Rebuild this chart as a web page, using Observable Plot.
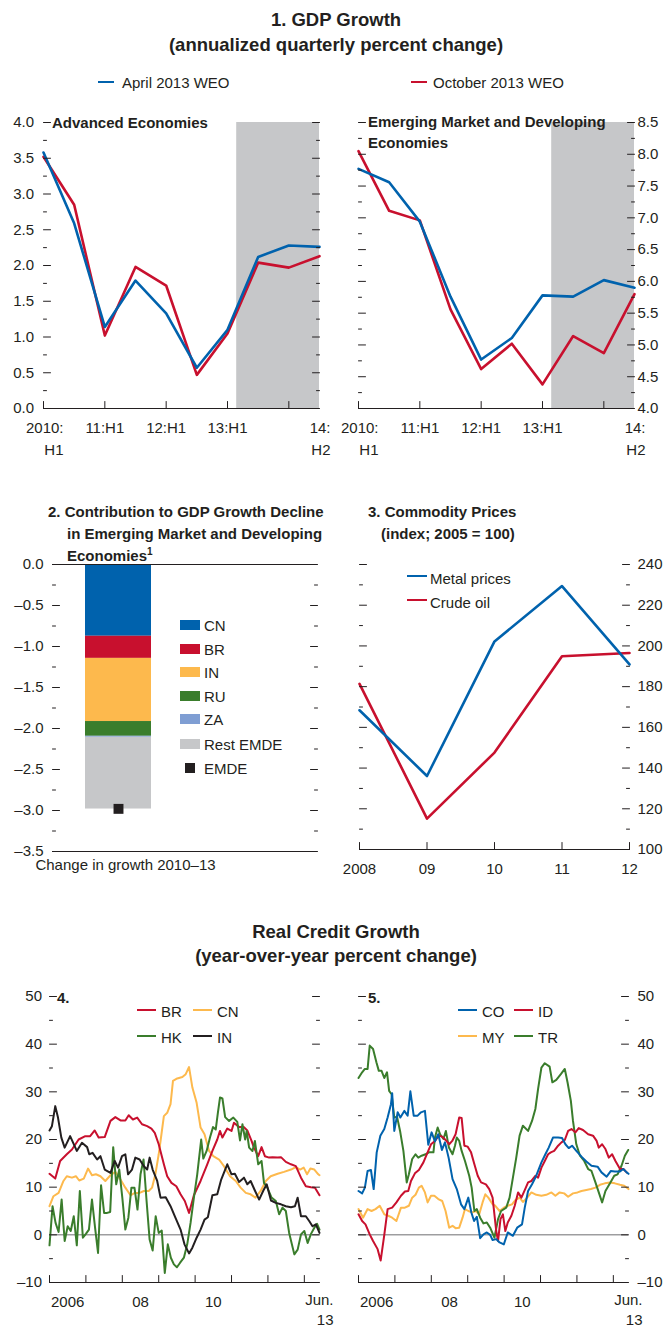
<!DOCTYPE html>
<html><head><meta charset="utf-8">
<script src="https://cdn.jsdelivr.net/npm/d3@7"></script>
<script src="https://cdn.jsdelivr.net/npm/@observablehq/plot@0.6"></script>
<style>
html,body{margin:0;padding:0;background:#fff;}
#root{position:relative;width:663px;height:1329px;overflow:hidden;color:#231F20;
  font-family:"Liberation Sans",Arial,"Helvetica",sans-serif;}
#root svg{font-family:"Liberation Sans",Arial,"Helvetica",sans-serif;font-size:15px;overflow:visible;background:transparent;}
.t{position:absolute;white-space:nowrap;line-height:1;}
.sw{position:absolute;}
</style></head><body><div id="root"></div>
<script>
// ---------- DATA ----------
// Panel 1: GDP growth, half-years 2010:H1 ... 2014:H2
const halfYearLabels = ["2010:\nH1","10:H2","11:H1","11:H2","12:H1","12:H2","13:H1","13:H2","14:H1","14:\nH2"];
const gdpAdvApril = [3.58, 2.59, 1.14, 1.79, 1.33, 0.57, 1.10, 2.12, 2.28, 2.26];
const gdpAdvOct   = [3.52, 2.85, 1.02, 1.98, 1.72, 0.47, 1.05, 2.04, 1.97, 2.13];
const gdpEmApril  = [7.77, 7.56, 6.94, 5.76, 4.77, 5.11, 5.78, 5.76, 6.02, 5.90];
const gdpEmOct    = [8.05, 7.11, 6.96, 5.56, 4.62, 5.02, 4.38, 5.14, 4.87, 5.80];
const projectionStart = 6.3; // shaded projection period (half-year index)
const gdpXTickLabels = [[0,"2010:\nH1"],[2,"11:H1"],[4,"12:H1"],[6,"13:H1"],[9,"14:\nH2"]];

// Panel 2: contributions to growth decline
const contribNames  = ["CN","BR","IN","RU","ZA","Rest EMDE"];
const contribValues = [-0.875, -0.27, -0.77, -0.18, -0.012, -0.875];
const emdeTotal = -2.98;
const contribCategory = "Change in growth 2010\u201313";

// Panel 3: commodity prices
const commodityYears = [2008, 2009, 2010, 2011, 2012];
const commodityYearLabels = ["2008","09","10","11","12"];
const metalPrices = [168.4, 136.1, 202.2, 229.4, 190.9];
const crudeOil    = [181.4, 115.2, 147.6, 194.9, 196.5];

// Panels 4-5: real credit growth, [months since Jan 2006, percent]
const creditXLabels = [[6,"2006"],[30,"08"],[54,"10"]];
const creditEndLabel = [[89,"Jun.\n13"]];
const BR = [[0,12.8],[1.9,11.8],[3.5,15.5],[5.7,16.9],[7.4,17.9],[9.6,20],[11.8,20.7],[13.4,20.7],[14.9,21.9],[16.2,20.4],[18.2,20.5],[20.1,23.9],[21.7,24.7],[23.4,24],[25,24],[26.1,25.1],[27.5,24.2],[28.9,24.6],[30.5,23.2],[32.2,22.8],[33.6,22.3],[34.7,21.4],[36,19],[37.7,14.8],[38.8,12.3],[40.2,10.9],[41.8,10.2],[43.2,8.5],[44.6,7.1],[46,4.6],[47.6,8.3],[49.8,11.3],[52,14.8],[53.7,17.6],[55.3,20],[56.2,21.8],[57,20.4],[58.6,22.3],[60,21.8],[60.8,23.5],[62.5,22.6],[64.1,22.6],[65.2,21.9],[66.6,19.7],[67.4,18.3],[68.8,16.5],[69.9,18.4],[71,16.5],[72.4,16.2],[73.5,16.3],[75.2,16.2],[76.3,16.3],[77.9,15.3],[79.6,14.8],[81.2,14.4],[82.9,12],[84.5,10.2],[86.2,10],[87.5,9.9],[89,8.3]];
const CN = [[0,6],[1.3,8.1],[3,8.8],[4.6,11.3],[5.7,12.3],[7.4,12],[8.7,12.3],[9.8,11.4],[11.3,11.8],[12.7,13.9],[14,12.5],[15.3,12.7],[16.8,12.3],[18.4,11.3],[20.1,12.5],[21.7,13.2],[23.4,11.6],[25,9.9],[26.7,8.3],[28.1,8.8],[29.7,8.8],[31.1,9.2],[32.7,9.2],[33.8,9.9],[34.9,12.7],[36,16.9],[36.9,21.1],[37.7,24.9],[38.8,25.6],[39.9,27.4],[40.7,32.3],[42.1,32.8],[43.8,33.1],[44.9,33.7],[46,35.2],[47.1,30.9],[48.5,27.7],[49.8,22.5],[51.1,21.1],[52.6,17.6],[54,16.5],[55.9,15.8],[57.5,14.4],[59.5,12.3],[61.4,11.3],[63,9.9],[64.7,8.8],[66.3,8.5],[67.9,7.8],[69.6,9.2],[71.3,11.3],[72.9,12.3],[75.2,12.8],[77.3,13.2],[79.6,13.7],[81.2,14.2],[82.6,13.7],[83.8,14.1],[84.9,12.7],[86,13.9],[87.3,13.7],[88.6,12.7],[89,12.5]];
const HK = [[0,-2.2],[1,6],[2,2.5],[3,0.6],[4,7.4],[5,-1.3],[6,1.8],[7,0.8],[8,3.9],[9,-2.2],[10,9.2],[11,-0.6],[12,0.2],[13,1.1],[14,7.4],[15,1.6],[16,-3.8],[17,10.4],[18,4.6],[19,4.6],[20,4.8],[21,18.4],[22,10.6],[23,13.7],[24,7.8],[25,1.1],[26,3.6],[27,9.9],[28,9.9],[29,5.3],[30,12.7],[31,15.8],[32,7.1],[33,-1],[34,-3.3],[35,3.9],[36,0.4],[37,0.9],[38,-8],[39,-2],[40,-4.8],[41,-6.2],[42,-6.8],[43,-5.9],[44.3,-4.8],[45.4,-2],[46.5,2.5],[47.6,7.8],[48.7,12.7],[50,20],[50.7,16],[51.8,17.6],[52.9,20.4],[53.9,22.6],[54.8,22.1],[55.5,25.6],[56.2,28.8],[57,28.6],[57.9,24.7],[59.2,23.9],[60.6,24.6],[61.9,23.7],[62.8,19.8],[63.6,23.2],[64.5,20],[65,21.8],[65.8,18.3],[66.9,17.6],[67.7,19.7],[68.8,14.8],[69.9,15.5],[70.7,10.9],[71.8,9.9],[73.2,7.8],[74.6,7.1],[75.7,4.3],[76.8,5.7],[77.9,5],[79,0.4],[80.7,-4.1],[81.8,-3.1],[82.9,0.1],[84,0.8],[85.1,-1.7],[86.2,0.2],[87.3,1.5],[88.2,2.3],[89,1.1]];
const IN = [[0,21.9],[0.8,22.8],[1.9,27],[2.8,24.6],[3.9,20.4],[5,18.3],[6.8,20.7],[9,17.6],[10.7,19.3],[12.4,18.4],[13.1,16.9],[14.2,17.2],[15.7,15.8],[16.8,16.5],[18.2,13.7],[20.1,13],[21.5,15.5],[22.6,14.1],[23.9,16.5],[25,16.9],[25.9,12.7],[27.2,13.7],[28.3,16.2],[29.7,15.8],[31.1,14.4],[32.2,13.7],[33,16.2],[34,13.7],[35.5,11.3],[36.6,7.8],[38.3,7.9],[39.9,6],[41.5,3.6],[43.2,1.1],[44.5,-2],[46,-3.9],[47.1,-2.7],[48.5,-0.6],[49.8,1.1],[51.1,3.2],[52.2,3.7],[53.7,8.3],[55.3,8.5],[56.6,11.6],[58.6,14.8],[60,12.7],[61.1,12.8],[62.5,11.1],[64.1,12],[65.2,10.6],[66.3,11.3],[67.7,9.3],[69.1,7.4],[70.5,9.3],[71.6,10.6],[73,7.2],[74.6,6.7],[76.3,6.4],[77.9,6],[79.6,5.8],[80.9,6],[81.8,7.8],[82.9,3.9],[84.5,3.9],[85.6,2.9],[86.7,1.8],[87.8,2.2],[89,0.4]];
const CO = [[0,9.2],[1.2,8.7],[2.1,9.9],[3,13.4],[4.1,13.6],[5,9.6],[6,17.3],[7.2,20.8],[8.5,22.2],[9.6,24.6],[10.7,27.4],[11.1,29.7],[11.8,21.8],[12.9,25.7],[13.8,24.6],[15.1,26],[16.2,25],[17.1,30.1],[18.2,25],[19.5,25],[20.6,25.7],[21.9,26],[23,18.9],[24.1,21.5],[25.2,19.6],[26.3,21.1],[27.5,17.8],[28.5,19.4],[29.7,16.2],[31,11.7],[32.4,9.6],[33.8,6.4],[34.9,5.4],[36.2,7.8],[37.2,4.7],[38.1,2.9],[39,3.8],[40.1,-0.7],[41.2,0.1],[42.3,0.5],[43.4,0],[44.2,-1.1],[45.4,-0.9],[46.5,-1.6],[47.9,-2],[49.2,0.5],[50.9,-0.2],[52.3,1.5],[53.9,2.2],[54.8,5.7],[55.9,9.2],[57.2,10.6],[58.6,12.4],[60.3,15.2],[61.6,16.9],[62.7,18.3],[64.1,20.4],[65.8,20.4],[67.1,20.3],[68.2,19],[69.3,18.2],[70.4,18.7],[71.8,17.6],[73.5,16.4],[75.1,15.4],[76.8,14.5],[78.8,14.3],[80.1,13.1],[81.8,12.2],[83.2,13.4],[84.5,13.3],[86.2,13.3],[87.3,13.8],[88.4,13.1],[89,12.8]];
const ID = [[0,4.3],[1.2,2.9],[2.3,2.2],[3.7,0.1],[4.8,-1.3],[6.3,-3],[7.3,-5.4],[8.5,0],[9.6,5.4],[11.1,5.7],[12.5,6.8],[14,8.2],[15.3,9.1],[16.4,9.2],[17.3,11.3],[18.6,12.9],[19.9,13.6],[21.4,15.2],[22.5,16.9],[23.9,19],[25.2,19.7],[26.5,20.8],[27.6,20.6],[28.7,19.9],[29.9,19],[30.9,19.7],[32,21.1],[33.2,24.6],[34,24.5],[34.9,18.7],[36,18.5],[37.1,17.3],[38.2,14.8],[39.3,12.4],[40.4,11],[42,10.6],[43.1,9.6],[44.2,7.8],[45.4,0.8],[46,-1.3],[46.8,3.3],[47.6,4.3],[48.4,0.8],[49.2,2.6],[50.4,4],[51.5,6.1],[52.6,8.9],[53.7,7.8],[54.8,9.4],[55.9,11],[57,11.3],[58.3,12.4],[59.2,12],[60.3,14.1],[61.4,15.5],[62.5,16.9],[63.4,17.3],[64.5,17.6],[65.8,18.7],[66.9,19.4],[68,19.9],[69.1,21.8],[70.2,22.2],[71.5,21.5],[72.6,22.4],[74,22],[75.7,21.1],[77.3,20.8],[78.5,19.7],[79.2,18.3],[80.3,19],[81.4,18],[82.5,16.2],[83.6,16.9],[84.7,15.5],[86.2,13.8],[87.3,13.8],[88.4,13.1]];
const MY = [[0,5.4],[1.5,3.6],[3,5.4],[4.3,5],[5.6,5.4],[7,6.1],[8.5,4.3],[9.8,4],[11.1,3.6],[12.5,2.9],[14,5.7],[15.3,5.7],[16.6,6.1],[17.7,7.8],[18.8,8.4],[19.9,9.9],[20.8,10.3],[21.9,8.9],[22.8,6.8],[23.9,8.2],[25,8.2],[26.3,7.5],[27.6,7.1],[28.7,5],[29.9,1.5],[31,1.9],[32,1.4],[33.2,1.5],[34.3,3.6],[35.1,5.4],[36.2,5],[37.6,4.7],[38.7,5],[39.8,4.3],[40.9,6.8],[41.8,8.5],[42.8,7.8],[44.2,6.4],[45.1,6.1],[46.5,5],[47.9,5.7],[49.2,6.1],[50.6,6.4],[51.7,7.3],[53.1,7.8],[54.2,6.9],[55.6,7.8],[57,8.9],[58.6,8.4],[60.3,8.2],[61.9,8.4],[63.6,8.9],[64.9,8.2],[66.3,8.9],[67.8,8.7],[69.1,8],[70.7,8.7],[72.2,8.9],[73.5,9.2],[75.1,9.4],[76.6,9.6],[78.1,9.9],[79.6,10.5],[81.2,10.8],[82.9,11],[84.5,10.8],[86.2,10.5],[87.6,10.3],[89,9.6]];
const TR = [[0,32.9],[1.2,34.1],[2.1,34.8],[3,34.8],[3.7,39.7],[4.8,39],[5.9,36.2],[6.7,34.4],[7.6,34.4],[8.5,32.9],[9.4,34.1],[10.1,30.2],[10.9,29.5],[11.8,24.6],[12.7,24.8],[13.7,21.8],[14.8,17.6],[15.9,11],[16.6,12.7],[17.7,15.9],[18.8,16.9],[19.7,16.2],[20.8,16.6],[22.1,16.9],[23.2,17.3],[24.7,17.3],[25.2,20.4],[26.1,22.5],[26.9,21.1],[28,20.1],[28.8,21.8],[29.8,18.3],[31,16.9],[31.8,18.7],[32.4,20.4],[33.2,19.7],[34,17.6],[35.1,15.5],[36.5,12.4],[37.3,9.9],[38.2,5],[39,5.4],[40.1,3.6],[41.2,2.4],[42.3,2.6],[43.4,1.5],[44.8,-0.6],[46,3.3],[47,5],[48.7,5.7],[49.8,7.8],[50.9,12],[52,16.2],[53.1,20.8],[54.2,22.9],[55.9,21.8],[57.2,23.9],[58.3,26.4],[59.2,30.6],[60.3,35.1],[61.4,36],[63,35.3],[63.9,32],[65.2,32.5],[66.7,33.7],[68,34.8],[68.9,32],[70,28.1],[70.7,23.9],[71.8,19],[73,16.6],[74.4,15.5],[75.7,13.8],[76.8,13.4],[78.1,11],[79.2,8.9],[80.3,6.8],[81.4,9.2],[82.9,10.8],[84.3,12.4],[85.4,12.7],[86.7,14.5],[87.8,16.6],[88.9,17.8]];

// ---------- STYLE ----------
const INK = "#231F20", BLUE = "#0062AD", RED = "#C8102E", ORANGE = "#FDB94D",
      GREEN = "#3A7D2C", LIGHTBLUE = "#7F9ED3", GRAY = "#C6C7C9", ZEROLINE = "#6D6E71";
const contribColors = [BLUE, RED, ORANGE, GREEN, LIGHTBLUE, GRAY];

const root = document.getElementById("root");
function place(svg, left, top) {
  svg.style.position = "absolute"; svg.style.left = left + "px"; svg.style.top = top + "px";
  root.appendChild(svg);
}
function label(txt, x, cy, {size = 15, weight = 400, anchor = "start", html = false} = {}) {
  const d = document.createElement("div");
  d.className = "t";
  d.style.left = x + "px"; d.style.top = (cy - size / 2) + "px";
  d.style.fontSize = size + "px"; d.style.fontWeight = weight;
  if (anchor === "middle") d.style.transform = "translateX(-50%)";
  else if (anchor === "end") d.style.transform = "translateX(-100%)";
  if (html) d.innerHTML = txt; else d.textContent = txt;
  root.appendChild(d);
}
function swatch(x, y, w, h, color) {
  const d = document.createElement("div");
  d.className = "sw";
  Object.assign(d.style, {left: x + "px", top: (y - h / 2) + "px", width: w + "px", height: h + "px", background: color});
  root.appendChild(d);
}

// inner tick marks drawn as vectors anchored on the frame edge
const tickShape = {draw(ctx, l) { ctx.moveTo(0, 0); ctx.lineTo(0, -l); }};
function yTicks(values, side, len) {
  return Plot.vector(values, {y: d => d, frameAnchor: side, length: len, rotate: side === "left" ? 90 : -90,
    anchor: "start", shape: tickShape, stroke: INK, strokeWidth: 1});
}
function xTicks(values, len) {
  return Plot.vector(values, {x: d => d, frameAnchor: "bottom", length: len, rotate: 0,
    anchor: "start", shape: tickShape, stroke: INK, strokeWidth: 1});
}
function yLabels(values, side, dx, fmt) {
  return Plot.text(values, {y: d => d, text: fmt, frameAnchor: side, textAnchor: side === "left" ? "end" : "start", dx, fill: INK});
}
function xLabels(pairs, dy, opts = {}) {
  return Plot.text(pairs, {x: d => d[0], text: d => d[1], frameAnchor: "bottom", lineAnchor: "top", dy, lineHeight: 1.45, fill: INK, ...opts});
}
const dash = d => d < 0 ? "\u2013" + Math.abs(d) : String(d);
const dash1 = d => d < 0 ? "\u2013" + Math.abs(d).toFixed(1) : d.toFixed(1);

// ---------- PANEL 1 ----------
function gdpPanel(apr, oct, yDomain, side, width, ml, mr, labelDx) {
  const last = apr.length - 1;
  const majors = d3.range(yDomain[0], yDomain[1] + 1e-9, 0.5);
  const minors = d3.range(yDomain[0] + 0.25, yDomain[1], 0.5);
  const single = gdpXTickLabels.filter(d => !d[1].includes("\n"));
  const first = gdpXTickLabels.filter(d => d[0] === 0);
  const end = gdpXTickLabels.filter(d => d[0] === last);
  return Plot.plot({
    width, height: 360, marginLeft: ml, marginRight: mr, marginTop: 22, marginBottom: 52,
    x: {domain: [0, last], axis: null}, y: {domain: yDomain, axis: null},
    marks: [
      Plot.rect([projectionStart], {x1: d => d, x2: last, y1: yDomain[0], y2: yDomain[1], fill: GRAY}),
      Plot.line(oct, {x: (d, i) => i, y: d => d, stroke: RED, strokeWidth: 2.6}),
      Plot.line(apr, {x: (d, i) => i, y: d => d, stroke: BLUE, strokeWidth: 2.6}),
      Plot.ruleY([yDomain[0]], {stroke: INK, strokeWidth: 1}),
      yTicks(majors, "left", 7), yTicks(minors, "left", 3),
      yTicks(majors, "right", 7), yTicks(minors, "right", 3),
      xTicks(d3.range(0, last, 2), 7),
      yLabels(majors, side, labelDx, d => d.toFixed(1)),
      xLabels(single, 9),
      xLabels(first, 9, {textAnchor: "end", dx: 20}),
      xLabels(end, 9, {textAnchor: "end", dx: 11})
    ]
  });
}
place(gdpPanel(gdpAdvApril, gdpAdvOct, [0, 4], "left", 331, 43, 12, -9.5), 0, 100);
place(gdpPanel(gdpEmApril, gdpEmOct, [4, 8.5], "right", 332, 27, 29, 3), 331, 100);

// ---------- PANEL 2 ----------
{
  const contrib = contribNames.map((name, i) => ({name, value: contribValues[i]}));
  const yDomain = [-3.5, 0];
  const majors = d3.range(-3.5, 1e-9, 0.5);
  const minors = d3.range(-3.25, 0, 0.5);
  place(Plot.plot({
    width: 331, height: 340, marginLeft: 52, marginRight: 14, marginTop: 24, marginBottom: 29,
    x: {domain: [contribCategory], paddingInner: 0, paddingOuter: 1.478, align: 0.1667, axis: null},
    y: {domain: yDomain, axis: null},
    color: {domain: contribNames, range: contribColors},
    marks: [
      Plot.barY(contrib, {x: () => contribCategory, y: "value", fill: "name"}),
      Plot.dot([emdeTotal], {x: () => contribCategory, y: d => d, symbol: "square", r: 5.6, fill: INK}),
      Plot.ruleY(yDomain, {stroke: INK, strokeWidth: 1}),
      yTicks(majors, "left", 7), yTicks(minors, "left", 3),
      yTicks(majors, "right", 7), yTicks(minors, "right", 3),
      yLabels(majors, "left", -9, dash1),
      Plot.text([contribCategory], {x: d => d, text: d => d, frameAnchor: "bottom", lineAnchor: "top", dy: 8, dx: 7, fill: INK})
    ]
  }), 0, 540);
}

// ---------- PANEL 3 ----------
{
  const yDomain = [100, 240];
  const majors = d3.range(100, 241, 20);
  const minors = d3.range(110, 240, 20);
  place(Plot.plot({
    width: 332, height: 340, marginLeft: 28, marginRight: 34, marginTop: 24, marginBottom: 31,
    x: {domain: [commodityYears[0], commodityYears[commodityYears.length - 1]], axis: null},
    y: {domain: yDomain, axis: null},
    marks: [
      Plot.line(crudeOil, {x: (d, i) => commodityYears[i], y: d => d, stroke: RED, strokeWidth: 2.6}),
      Plot.line(metalPrices, {x: (d, i) => commodityYears[i], y: d => d, stroke: BLUE, strokeWidth: 2.6}),
      Plot.ruleY([yDomain[0]], {stroke: INK, strokeWidth: 1}),
      yTicks(majors, "left", 7), yTicks(minors, "left", 3),
      yTicks(majors, "right", 7), yTicks(minors, "right", 3),
      xTicks(commodityYears, 7),
      yLabels(majors, "right", 8, d => String(d)),
      xLabels(commodityYears.map((y, i) => [y, commodityYearLabels[i]]), 9)
    ]
  }), 331, 540);
}

// ---------- PANELS 4 & 5 ----------
function creditPanel(series, side, width, ml, mr, labelDx) {
  const yDomain = [-10, 50];
  const majors = d3.range(-10, 51, 10);
  const minors = d3.range(-5, 50, 10);
  return Plot.plot({
    width, height: 354, marginLeft: ml, marginRight: mr, marginTop: 21, marginBottom: 47,
    x: {domain: [0, 89], axis: null}, y: {domain: yDomain, axis: null},
    marks: [
      Plot.ruleY([0], {stroke: ZEROLINE, strokeWidth: 1}),
      ...series.map(([data, color]) => Plot.line(data, {x: d => d[0], y: d => d[1], stroke: color, strokeWidth: 2})),
      Plot.ruleY([yDomain[0]], {stroke: INK, strokeWidth: 1}),
      yTicks(majors, "left", 7), yTicks(minors, "left", 3),
      yTicks(majors, "right", 7), yTicks(minors, "right", 3),
      xTicks(d3.range(0, 89, 12), 7),
      yLabels(majors, side, labelDx, dash),
      xLabels(creditXLabels, 9),
      xLabels(creditEndLabel, 9, {textAnchor: "end", dx: 14, lineHeight: 1.3})
    ]
  });
}
place(creditPanel([[CN, ORANGE], [BR, RED], [HK, GREEN], [IN, INK]], "left", 331, 49, 12, -7.5), 0, 975);
place(creditPanel([[MY, ORANGE], [TR, GREEN], [ID, RED], [CO, BLUE]], "right", 332, 27, 35, 9), 331, 975);

// ---------- TEXT, TITLES, LEGENDS ----------
label("1. GDP Growth", 336, 20, {size: 18.5, weight: 700, anchor: "middle"});
label("(annualized quarterly percent change)", 336, 45, {size: 18.5, weight: 700, anchor: "middle"});
swatch(98, 82, 16, 2.5, BLUE);  label("April 2013 WEO", 122, 82);
swatch(411, 82, 16, 2.5, RED);  label("October 2013 WEO", 433, 82);
label("Advanced Economies", 52, 122, {size: 15, weight: 700});
label("Emerging Market and Developing", 368, 121, {size: 15, weight: 700});
label("Economies", 368, 142, {size: 15, weight: 700});

label("2. Contribution to GDP Growth Decline", 48, 511, {size: 15, weight: 700});
label("in Emerging Market and Developing", 67, 533, {size: 15, weight: 700});
label('Economies<span style="font-size:10px;position:relative;top:-6px">1</span>', 67, 555, {size: 15, weight: 700, html: true});
const legendRows = [625, 649, 672, 696, 719, 744];
contribNames.forEach((n, i) => { swatch(180, legendRows[i], 20, 10, contribColors[i]); label(n, 204, legendRows[i]); });
swatch(185, 768, 10, 10, INK); label("EMDE", 204, 768);

label("3. Commodity Prices", 368, 511, {size: 15, weight: 700});
label("(index; 2005 = 100)", 381, 533, {size: 15, weight: 700});
swatch(407, 576, 20, 2.5, BLUE); label("Metal prices", 430, 578);
swatch(407, 600, 20, 2.5, RED);  label("Crude oil", 430, 602);

label("Real Credit Growth", 336, 932, {size: 18.5, weight: 700, anchor: "middle"});
label("(year-over-year percent change)", 336, 956, {size: 18.5, weight: 700, anchor: "middle"});
label("4.", 57, 997, {size: 15, weight: 700});
label("5.", 368, 997, {size: 15, weight: 700});
const leg4 = [["BR", RED, 137, 1010], ["CN", ORANGE, 193, 1010], ["HK", GREEN, 137, 1036], ["IN", INK, 193, 1036]];
const leg5 = [["CO", BLUE, 458, 1010], ["ID", RED, 514, 1010], ["MY", ORANGE, 458, 1036], ["TR", GREEN, 514, 1036]];
[...leg4, ...leg5].forEach(([n, c, x, y]) => { swatch(x, y, 19, 2.5, c); label(n, x + 24, y + 1); });
</script></body></html>
